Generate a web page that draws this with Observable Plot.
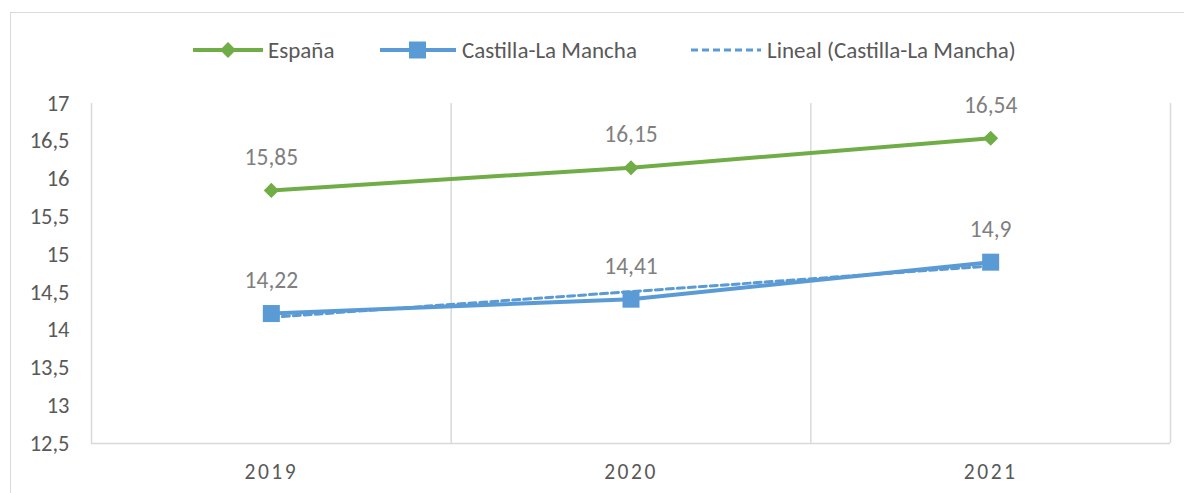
<!DOCTYPE html>
<html>
<head>
<meta charset="utf-8">
<script src="https://cdn.jsdelivr.net/npm/d3@7"></script>
<script src="https://cdn.jsdelivr.net/npm/@observablehq/plot@0.6"></script>
<style>
  html, body { margin: 0; padding: 0; background: #fff; width: 1184px; height: 493px; overflow: hidden; }
  body { position: relative; font-family: Carlito, Calibri, Lato, sans-serif; }
  #frame { position: absolute; left: 10px; top: 12px; width: 1200px; height: 520px; border: 1.5px solid #d9d9d9; box-sizing: border-box; }
  #legend { position: absolute; left: 0; top: 36px; width: 1184px; height: 28px; font-size: 23px; color: #595959; white-space: nowrap; }
  .item { position: absolute; top: 0; height: 28px; display: flex; align-items: center; }
  .item span { position: absolute; top: 50%; transform: translateY(-50%); }
  #chart { position: absolute; left: 0; top: 80px; }
  #chart g[aria-label="x-axis tick label"] text, #chart g[aria-label="x-axis"] text { font-size: 21.5px; letter-spacing: 2.5px; fill: #595959; }
  #chart g[aria-label="y-axis tick label"] text, #chart g[aria-label="y-axis"] text { font-size: 22.5px; fill: #595959; }
</style>
</head>
<body>
<div id="frame"></div>
<div id="legend"></div>
<div id="chart"></div>
<script>
const years = [2019, 2020, 2021];
const espana = [15.85, 16.15, 16.54];
const castilla = [14.22, 14.41, 14.9];
const yTicks = [12.5, 13, 13.5, 14, 14.5, 15, 15.5, 16, 16.5, 17];
const seriesNames = ["España", "Castilla-La Mancha", "Lineal (Castilla-La Mancha)"];

const green = "#70ad47";
const blue = "#5b9bd5";
const grid = "#d9d9d9";
const fmt = v => String(v).replace(".", ",");

const dEsp = years.map((x, i) => ({x, y: espana[i]}));
const dClm = years.map((x, i) => ({x, y: castilla[i]}));
const bounds = [2018.5, 2019.5, 2020.5, 2021.5];

// Legend
const legend = document.getElementById("legend");
const swatches = [
  `<svg width="70" height="20"><line x1="0" y1="10" x2="70" y2="10" stroke="${green}" stroke-width="4"/><path d="M35,2 L43,10 L35,18 L27,10 Z" fill="${green}"/></svg>`,
  `<svg width="76" height="20"><line x1="0" y1="10" x2="76" y2="10" stroke="${blue}" stroke-width="4"/><rect x="29" y="1.5" width="17" height="17" fill="${blue}"/></svg>`,
  `<svg width="71" height="20"><line x1="1" y1="10" x2="71" y2="10" stroke="${blue}" stroke-width="3" stroke-dasharray="7,4"/></svg>`
];
const itemLeft = [193, 380, 690];
const textLeft = [268, 462, 767];
seriesNames.forEach((name, i) => {
  const el = document.createElement("div");
  el.className = "item";
  el.style.left = itemLeft[i] + "px";
  el.innerHTML = swatches[i] + `<span style="left:${textLeft[i] - itemLeft[i]}px">${name}</span>`;
  legend.appendChild(el);
});

const chart = Plot.plot({
  width: 1184,
  height: 413,
  marginLeft: 91,
  marginRight: 14,
  marginTop: 23,
  marginBottom: 50,
  style: { fontFamily: "Carlito, Calibri, Lato, sans-serif", background: "transparent" },
  x: { type: "linear", domain: [2018.5, 2021.5], ticks: years, tickFormat: d => String(d), tickSize: 0, tickPadding: 20, label: null },
  y: { domain: [12.5, 17], ticks: yTicks, tickFormat: fmt, tickSize: 0, tickPadding: 22, label: null },
  marks: [
    Plot.ruleX(bounds, { y1: 12.5, y2: 17, stroke: grid, strokeWidth: 1.5 }),
    Plot.ruleY([12.5], { x1: 2018.5, x2: 2021.5, stroke: grid, strokeWidth: 1.5 }),
    Plot.axisX({ ticks: years, tickFormat: d => String(d), tickSize: 0, tickPadding: 20, fontSize: 21.5, fill: "#595959" }),
    Plot.axisY({ ticks: yTicks, tickFormat: fmt, tickSize: 0, tickPadding: 22, fontSize: 22.5, fill: "#595959" }),
    Plot.line(dEsp, { x: "x", y: "y", stroke: green, strokeWidth: 4 }),
    Plot.dot(dEsp, { x: "x", y: "y", symbol: "diamond2", r: 6.8, fill: green, stroke: "none" }),
    Plot.line(dClm, { x: "x", y: "y", stroke: blue, strokeWidth: 4 }),
    Plot.linearRegressionY(dClm, { x: "x", y: "y", ci: 0, stroke: blue, strokeWidth: 3, strokeDasharray: "7,4" }),
    Plot.dot(dClm, { x: "x", y: "y", symbol: "square", r: 9.6, fill: blue, stroke: "none" }),
    Plot.text(dEsp, { x: "x", y: "y", text: d => fmt(d.y), dy: -33, fontSize: 23.5, fill: "#7f7f7f" }),
    Plot.text(dClm, { x: "x", y: "y", text: d => fmt(d.y), dy: -33, fontSize: 23.5, fill: "#7f7f7f" })
  ]
});
document.getElementById("chart").appendChild(chart);
</script>
</body>
</html>
